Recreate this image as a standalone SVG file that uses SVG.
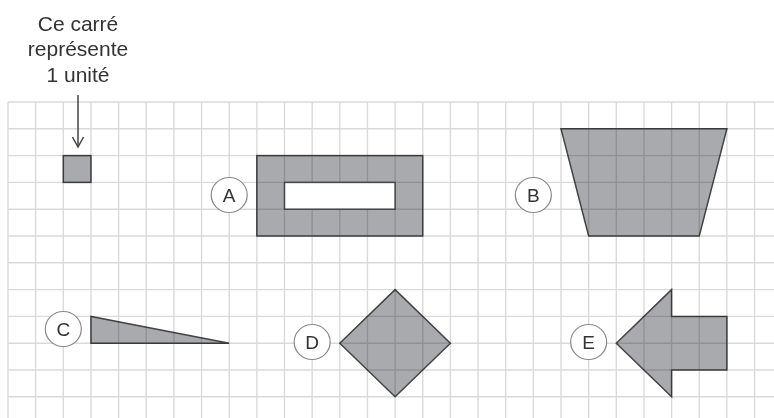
<svg xmlns="http://www.w3.org/2000/svg" width="774" height="418" viewBox="0 0 774 418">
<style>
.grid{fill:none;stroke:#dadada;stroke-width:1.4}
.shape{fill:#a9aaad;stroke:#444;stroke-width:1.5;stroke-linejoin:miter;mix-blend-mode:multiply}
.hole{fill:#fff;stroke:#444;stroke-width:1.5}
.lab{fill:#fff;stroke:#8a8a8a;stroke-width:1.2}
.lt{font-family:"Liberation Sans",Arial,sans-serif;font-size:19px;fill:#333;text-anchor:middle}
.cap{font-family:"Liberation Sans",Arial,sans-serif;font-size:21px;fill:#333;text-anchor:middle}
.conn{fill:none;stroke:#444;stroke-width:1.5}
</style>
<rect width="774" height="418" fill="#fff"/>
<g id="grid" class="grid">
<path d="M8 102V418M35.65 102V418M63.3 102V418M90.95 102V418M118.6 102V418M146.25 102V418M173.9 102V418M201.55 102V418M229.2 102V418M256.85 102V418M284.5 102V418M312.15 102V418M339.8 102V418M367.45 102V418M395.1 102V418M422.75 102V418M450.4 102V418M478.05 102V418M505.7 102V418M533.35 102V418M561 102V418M588.65 102V418M616.3 102V418M643.95 102V418M671.6 102V418M699.25 102V418M726.9 102V418M754.55 102V418"/>
<path d="M8 102H774M8 128.8H774M8 155.6H774M8 182.4H774M8 209.2H774M8 236H774M8 262.8H774M8 289.6H774M8 316.4H774M8 343.2H774M8 370H774M8 396.8H774"/>
</g>
<g id="caption">
<text class="cap" x="78" y="31">Ce carré</text>
<text class="cap" x="78" y="56">représente</text>
<text class="cap" x="78" y="82">1 unité</text>
</g>
<g id="unit">
<rect class="shape" x="63.3" y="155.6" width="27.65" height="26.8"/>
</g>
<g id="connectors">
<path class="conn" d="M78 95V147"/>
<path class="conn" d="M72.5 137L78 147L83.5 137"/>
</g>
<g id="shapeA">
<rect class="shape" x="256.85" y="155.6" width="165.9" height="80.4"/>
<rect class="hole" x="284.5" y="182.4" width="110.6" height="26.8"/>
<ellipse class="lab" cx="229.2" cy="195" rx="18" ry="17.5"/>
<text class="lt" x="229.2" y="202">A</text>
</g>
<g id="shapeB">
<polygon class="shape" points="561,128.8 726.9,128.8 699.25,236 588.65,236"/>
<ellipse class="lab" cx="533.35" cy="195" rx="18" ry="17.5"/>
<text class="lt" x="533.35" y="202">B</text>
</g>
<g id="shapeC">
<polygon class="shape" points="90.95,316.4 90.95,343.2 229.2,343.2"/>
<ellipse class="lab" cx="63.3" cy="329" rx="18" ry="17.5"/>
<text class="lt" x="63.3" y="336">C</text>
</g>
<g id="shapeD">
<polygon class="shape" points="395.1,289.6 450.4,343.2 395.1,396.8 339.8,343.2"/>
<ellipse class="lab" cx="312.15" cy="342" rx="18" ry="17.5"/>
<text class="lt" x="312.15" y="349">D</text>
</g>
<g id="shapeE">
<polygon class="shape" points="616.3,343.2 671.6,289.6 671.6,316.4 726.9,316.4 726.9,370 671.6,370 671.6,396.8"/>
<ellipse class="lab" cx="588.65" cy="342" rx="18" ry="17.5"/>
<text class="lt" x="588.65" y="349">E</text>
</g>
</svg>
